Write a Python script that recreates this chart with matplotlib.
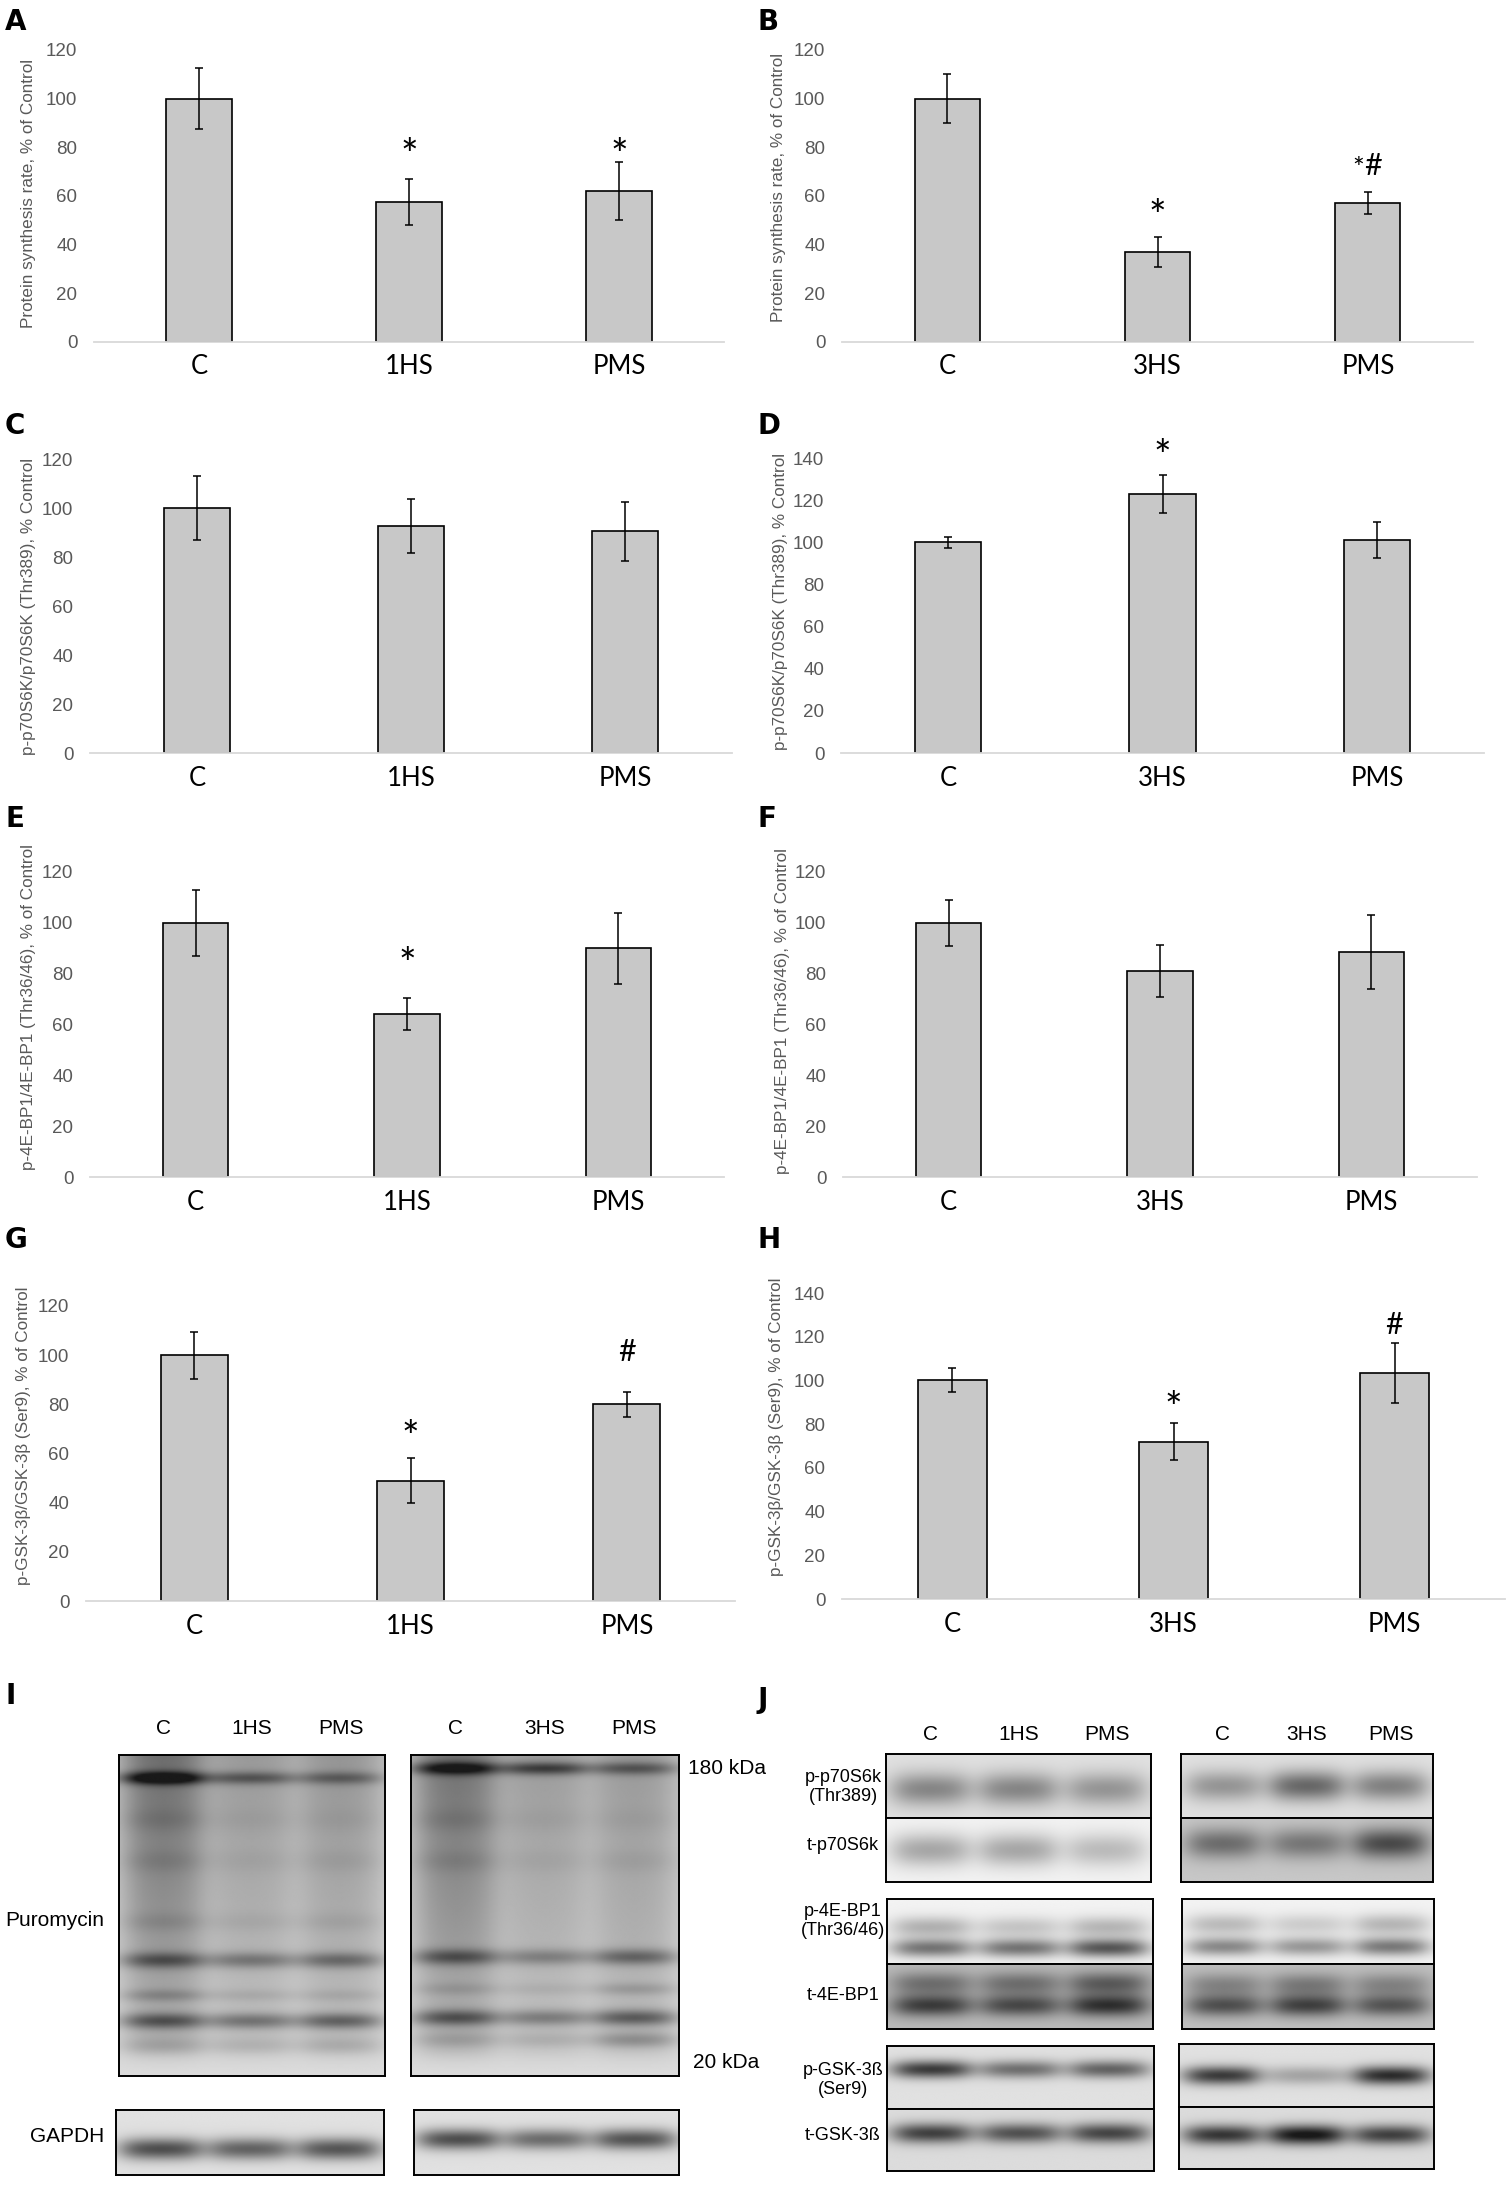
import numpy as np
import matplotlib
matplotlib.use('Agg')
import matplotlib.pyplot as plt

W, H = 1506, 2185

# ---- bar chart data (% of control, mean and SE) ----
groups_1hs = ['C', '1HS', 'PMS']
groups_3hs = ['C', '3HS', 'PMS']

synth_1hs = [100, 57.5, 62]
synth_1hs_err = [12.5, 9.5, 12]
synth_3hs = [100, 37, 57]
synth_3hs_err = [10, 6, 4.5]

p70_1hs = [100, 92.5, 90.5]
p70_1hs_err = [13, 11, 12]
p70_3hs = [100, 123, 101]
p70_3hs_err = [2.5, 9, 8.5]

bp1_1hs = [100, 64, 90]
bp1_1hs_err = [13, 6.3, 14]
bp1_3hs = [100, 81, 88.5]
bp1_3hs_err = [9, 10.3, 14.5]

gsk_1hs = [100, 49, 80]
gsk_1hs_err = [9.5, 9, 5]
gsk_3hs = [100, 72, 103.5]
gsk_3hs_err = [5.5, 8.3, 13.8]

# significance marks: (bar index, text, height in data units)
marks_A = [(1, '*', 81), (2, '*', 81)]
marks_B = [(1, '*', 56), (2, '*#', 73)]
marks_C = []
marks_D = [(1, '*', 146)]
marks_E = [(1, '*', 88)]
marks_F = []
marks_G = [(1, '*', 71), (2, '#', 102)]
marks_H = [(1, '*', 92), (2, '#', 126)]

ylab_synth = 'Protein synthesis rate, % of Control'
ylab_p70 = 'p-p70S6K/p70S6K (Thr389), % Control'
ylab_bp1 = 'p-4E-BP1/4E-BP1 (Thr36/46), % of Control'
ylab_gsk = 'p-GSK-3\u03b2/GSK-3\u03b2 (Ser9), % of Control'

fig = plt.figure(figsize=(W / 100, H / 100), dpi=100)


def px_box(x0, y0, x1, y1):
    return [x0 / W, 1 - y1 / H, (x1 - x0) / W, (y1 - y0) / H]


def ftext(x, y, s, **kw):
    fig.text(x / W, 1 - y / H, s, **kw)


# letter, cats, values, errors, ylabel, ymax, marks, axes box(px), ylabel centre(px), letter pos(px)
panels = [
    ('A', groups_1hs, synth_1hs, synth_1hs_err, ylab_synth, 120, marks_A, (94, 50, 724, 342), (29, 193), (5, 8)),
    ('B', groups_3hs, synth_3hs, synth_3hs_err, ylab_synth, 120, marks_B, (842, 50, 1473, 342), (779, 187), (758, 8)),
    ('C', groups_1hs, p70_1hs, p70_1hs_err, ylab_p70, 120, marks_C, (90, 459, 732, 753), (29, 606), (5, 412)),
    ('D', groups_3hs, p70_3hs, p70_3hs_err, ylab_p70, 140, marks_D, (841, 458, 1484, 753), (781, 601), (758, 412)),
    ('E', groups_1hs, bp1_1hs, bp1_1hs_err, ylab_bp1, 120, marks_E, (90, 872, 724, 1177), (29, 1007), (5, 805)),
    ('F', groups_3hs, bp1_3hs, bp1_3hs_err, ylab_bp1, 120, marks_F, (843, 872, 1477, 1177), (782, 1011), (758, 805)),
    ('G', groups_1hs, gsk_1hs, gsk_1hs_err, ylab_gsk, 120, marks_G, (86, 1306, 735, 1601), (24, 1436), (5, 1226)),
    ('H', groups_3hs, gsk_3hs, gsk_3hs_err, ylab_gsk, 140, marks_H, (842, 1293, 1505, 1599), (776, 1427), (758, 1226)),
]

for letter, cats, vals, errs, ylab, ymax, marks, bx, lpos, tpos in panels:
    ax = fig.add_axes(px_box(*bx))
    x = np.arange(len(cats))
    ax.bar(x, vals, width=0.31, color='#c8c8c8', edgecolor='black', linewidth=1.2,
           yerr=errs, error_kw=dict(ecolor='black', elinewidth=1.1, capsize=3, capthick=1.1))
    ax.set_xlim(-0.5, 2.5)
    ax.set_ylim(0, ymax)
    ax.set_yticks(np.arange(0, ymax + 1, 20))
    ax.set_xticks(x)
    ax.set_xticklabels(cats, fontfamily='Lato', fontsize=18.5, color='black')
    for t in ax.get_yticklabels():
        t.set_fontfamily('Liberation Sans')
        t.set_fontsize(13.5)
        t.set_color('#595959')
    ax.tick_params(axis='y', length=0, pad=12)
    ax.tick_params(axis='x', length=0, pad=9)
    for s in ['top', 'right', 'left']:
        ax.spines[s].set_visible(False)
    ax.spines['bottom'].set_color('#d9d9d9')
    ax.spines['bottom'].set_linewidth(1.3)
    ax.patch.set_alpha(0)
    for i, s, yv in marks:
        if s == '#':
            ax.annotate(s, (i, yv), xytext=(0, -1), textcoords='offset points', ha='center',
                        va='center', fontfamily='Lato', fontsize=22, annotation_clip=False)
        elif s == '*':
            ax.annotate(s, (i, yv), xytext=(0, -9), textcoords='offset points', ha='center',
                        va='center', fontfamily='Lato', fontsize=30, annotation_clip=False)
        else:
            ax.annotate(s[0], (i, yv), xytext=(-7, -4), textcoords='offset points', ha='center',
                        va='center', fontfamily='Lato', fontsize=20, annotation_clip=False)
            ax.annotate(s[1], (i, yv), xytext=(4, -1), textcoords='offset points', ha='center',
                        va='center', fontfamily='Lato', fontsize=22, annotation_clip=False)
    ftext(lpos[0], lpos[1], ylab, rotation=90, ha='center', va='center',
          fontfamily='Liberation Sans', fontsize=12.3, color='#595959')
    ftext(tpos[0], tpos[1], letter, ha='left', va='top', fontfamily='DejaVu Sans',
          fontweight='bold', fontsize=20)


# ---- western blots: band darkness per lane (0 = none, 1 = black) ----
# bands: (relative y from top, half-thickness, [lane1, lane2, lane3])
puro_1hs_bands = [(0.07, 0.02, [0.6, 0.3, 0.26]), (0.2, 0.035, [0.06, 0.03, 0.03]),
                  (0.33, 0.035, [0.06, 0.03, 0.04]), (0.52, 0.03, [0.07, 0.04, 0.05]),
                  (0.64, 0.025, [0.34, 0.26, 0.3]), (0.75, 0.02, [0.15, 0.07, 0.07]),
                  (0.83, 0.025, [0.38, 0.3, 0.36]), (0.91, 0.028, [0.1, 0.08, 0.1])]
puro_1hs_smear = [(0.36, 0.14), (0.18, 0.09), (0.2, 0.1)]
puro_3hs_bands = [(0.04, 0.02, [0.5, 0.4, 0.3]), (0.2, 0.035, [0.06, 0.03, 0.03]),
                  (0.33, 0.035, [0.06, 0.03, 0.04]), (0.63, 0.025, [0.34, 0.22, 0.32]),
                  (0.73, 0.02, [0.08, 0.05, 0.12]), (0.82, 0.025, [0.38, 0.26, 0.38]),
                  (0.89, 0.025, [0.1, 0.08, 0.2])]
puro_3hs_smear = [(0.34, 0.14), (0.17, 0.09), (0.18, 0.11)]
gapdh_1hs_bands = [(0.6, 0.17, [0.58, 0.5, 0.55])]
gapdh_3hs_bands = [(0.45, 0.16, [0.58, 0.46, 0.56])]

pp70_1hs = [(0.55, 0.26, [0.36, 0.36, 0.3])]
tp70_1hs = [(0.5, 0.26, [0.3, 0.3, 0.22])]
pp70_3hs = [(0.5, 0.24, [0.3, 0.48, 0.38])]
tp70_3hs = [(0.4, 0.24, [0.36, 0.32, 0.5])]
pbp1_1hs = [(0.44, 0.16, [0.26, 0.18, 0.24]), (0.76, 0.14, [0.5, 0.5, 0.62])]
tbp1_1hs = [(0.3, 0.18, [0.3, 0.3, 0.38]), (0.64, 0.17, [0.5, 0.45, 0.55])]
pbp1_3hs = [(0.4, 0.16, [0.22, 0.15, 0.24]), (0.74, 0.14, [0.42, 0.36, 0.48])]
tbp1_3hs = [(0.32, 0.18, [0.24, 0.28, 0.24]), (0.64, 0.17, [0.44, 0.5, 0.42])]
pgsk_1hs = [(0.38, 0.14, [0.66, 0.45, 0.5])]
tgsk_1hs = [(0.4, 0.16, [0.62, 0.55, 0.6])]
pgsk_3hs = [(0.5, 0.15, [0.66, 0.24, 0.72])]
tgsk_3hs = [(0.45, 0.16, [0.66, 0.8, 0.62])]


def blot(box, bg, bands, smear=None, hw=0.135, soft=0.03, lane_end=1.0):
    ax = fig.add_axes(px_box(*box))
    ny, nx = 220, 300
    yy = np.linspace(0, 1, ny)[:, None]
    xx = np.linspace(0, 1, nx)[None, :]
    dark = bg[0] + (bg[1] - bg[0]) * yy + np.zeros((ny, nx))
    vmask = 1 / (1 + np.exp((yy - lane_end) / 0.015))
    for i in range(3):
        c = (i + 0.5) / 3
        mask = 1 / (1 + np.exp((np.abs(xx - c) - hw) / soft))
        lane = np.zeros((ny, 1))
        if smear is not None:
            lane = lane + smear[i][0] + (smear[i][1] - smear[i][0]) * yy
        for yc, h, v in bands:
            lane = lane + v[i] * np.exp(-((yy - yc) / h) ** 2)
        dark = dark + mask * lane * vmask
    ax.imshow(1 - np.clip(dark, 0, 0.9), cmap='gray', vmin=0, vmax=1, aspect='auto',
              extent=(0, 1, 1, 0), interpolation='bilinear')
    ax.set_xticks([])
    ax.set_yticks([])
    for s in ax.spines.values():
        s.set_linewidth(1.4)
    return ax


def lane_labels(box, cats, y, size):
    x0, x1 = box[0], box[2]
    for i, c in enumerate(cats):
        ftext(x0 + (i + 0.5) / 3 * (x1 - x0), y, c, ha='center', va='center',
              fontfamily='Liberation Sans', fontsize=size)


# panel I
box_p1 = (119, 1755, 385, 2076)
box_p3 = (411, 1755, 679, 2076)
blot(box_p1, (0.22, 0.14), puro_1hs_bands, puro_1hs_smear, hw=0.14, soft=0.035, lane_end=0.94)
blot(box_p3, (0.22, 0.14), puro_3hs_bands, puro_3hs_smear, hw=0.14, soft=0.035, lane_end=0.94)
blot((116, 2110, 384, 2175), (0.12, 0.12), gapdh_1hs_bands, hw=0.14)
blot((414, 2110, 679, 2175), (0.12, 0.12), gapdh_3hs_bands, hw=0.14)
lane_labels(box_p1, groups_1hs, 1729, 15)
lane_labels(box_p3, groups_3hs, 1729, 15)
ftext(688, 1769, '180 kDa', ha='left', va='center', fontfamily='Liberation Sans', fontsize=15)
ftext(693, 2062, '20 kDa', ha='left', va='center', fontfamily='Liberation Sans', fontsize=15)
ftext(104, 1921, 'Puromycin', ha='right', va='center', fontfamily='Liberation Sans', fontsize=15)
ftext(104, 2137, 'GAPDH', ha='right', va='center', fontfamily='Liberation Sans', fontsize=15)
ftext(5, 1682, 'I', ha='left', va='top', fontfamily='DejaVu Sans', fontweight='bold', fontsize=20)

# panel J
blot((886, 1754, 1151, 1818), (0.12, 0.12), pp70_1hs)
blot((886, 1818, 1151, 1882), (0.05, 0.05), tp70_1hs)
blot((1181, 1754, 1433, 1818), (0.12, 0.12), pp70_3hs)
blot((1181, 1818, 1433, 1882), (0.22, 0.22), tp70_3hs)
blot((887, 1899, 1153, 1964), (0.05, 0.05), pbp1_1hs)
blot((887, 1964, 1153, 2029), (0.27, 0.27), tbp1_1hs)
blot((1182, 1899, 1434, 1964), (0.05, 0.05), pbp1_3hs)
blot((1182, 1964, 1434, 2029), (0.25, 0.25), tbp1_3hs)
blot((887, 2046, 1154, 2109), (0.12, 0.12), pgsk_1hs)
blot((887, 2109, 1154, 2171), (0.14, 0.14), tgsk_1hs)
blot((1179, 2044, 1434, 2107), (0.12, 0.12), pgsk_3hs)
blot((1179, 2107, 1434, 2169), (0.14, 0.14), tgsk_3hs)
lane_labels((886, 0, 1151, 0), groups_1hs, 1734, 15)
lane_labels((1181, 0, 1433, 0), groups_3hs, 1734, 15)

j_rows = [('p-p70S6k\n(Thr389)', 1787), ('t-p70S6k', 1846), ('p-4E-BP1\n(Thr36/46)', 1921),
          ('t-4E-BP1', 1995), ('p-GSK-3\u00df\n(Ser9)', 2080), ('t-GSK-3\u00df', 2136)]
for s, yv in j_rows:
    ftext(843, yv, s, ha='center', va='center', fontfamily='Liberation Sans', fontsize=13,
          linespacing=1.15)
ftext(758, 1686, 'J', ha='left', va='top', fontfamily='DejaVu Sans', fontweight='bold', fontsize=20)

fig.savefig('out.png', dpi=100, facecolor='white')
